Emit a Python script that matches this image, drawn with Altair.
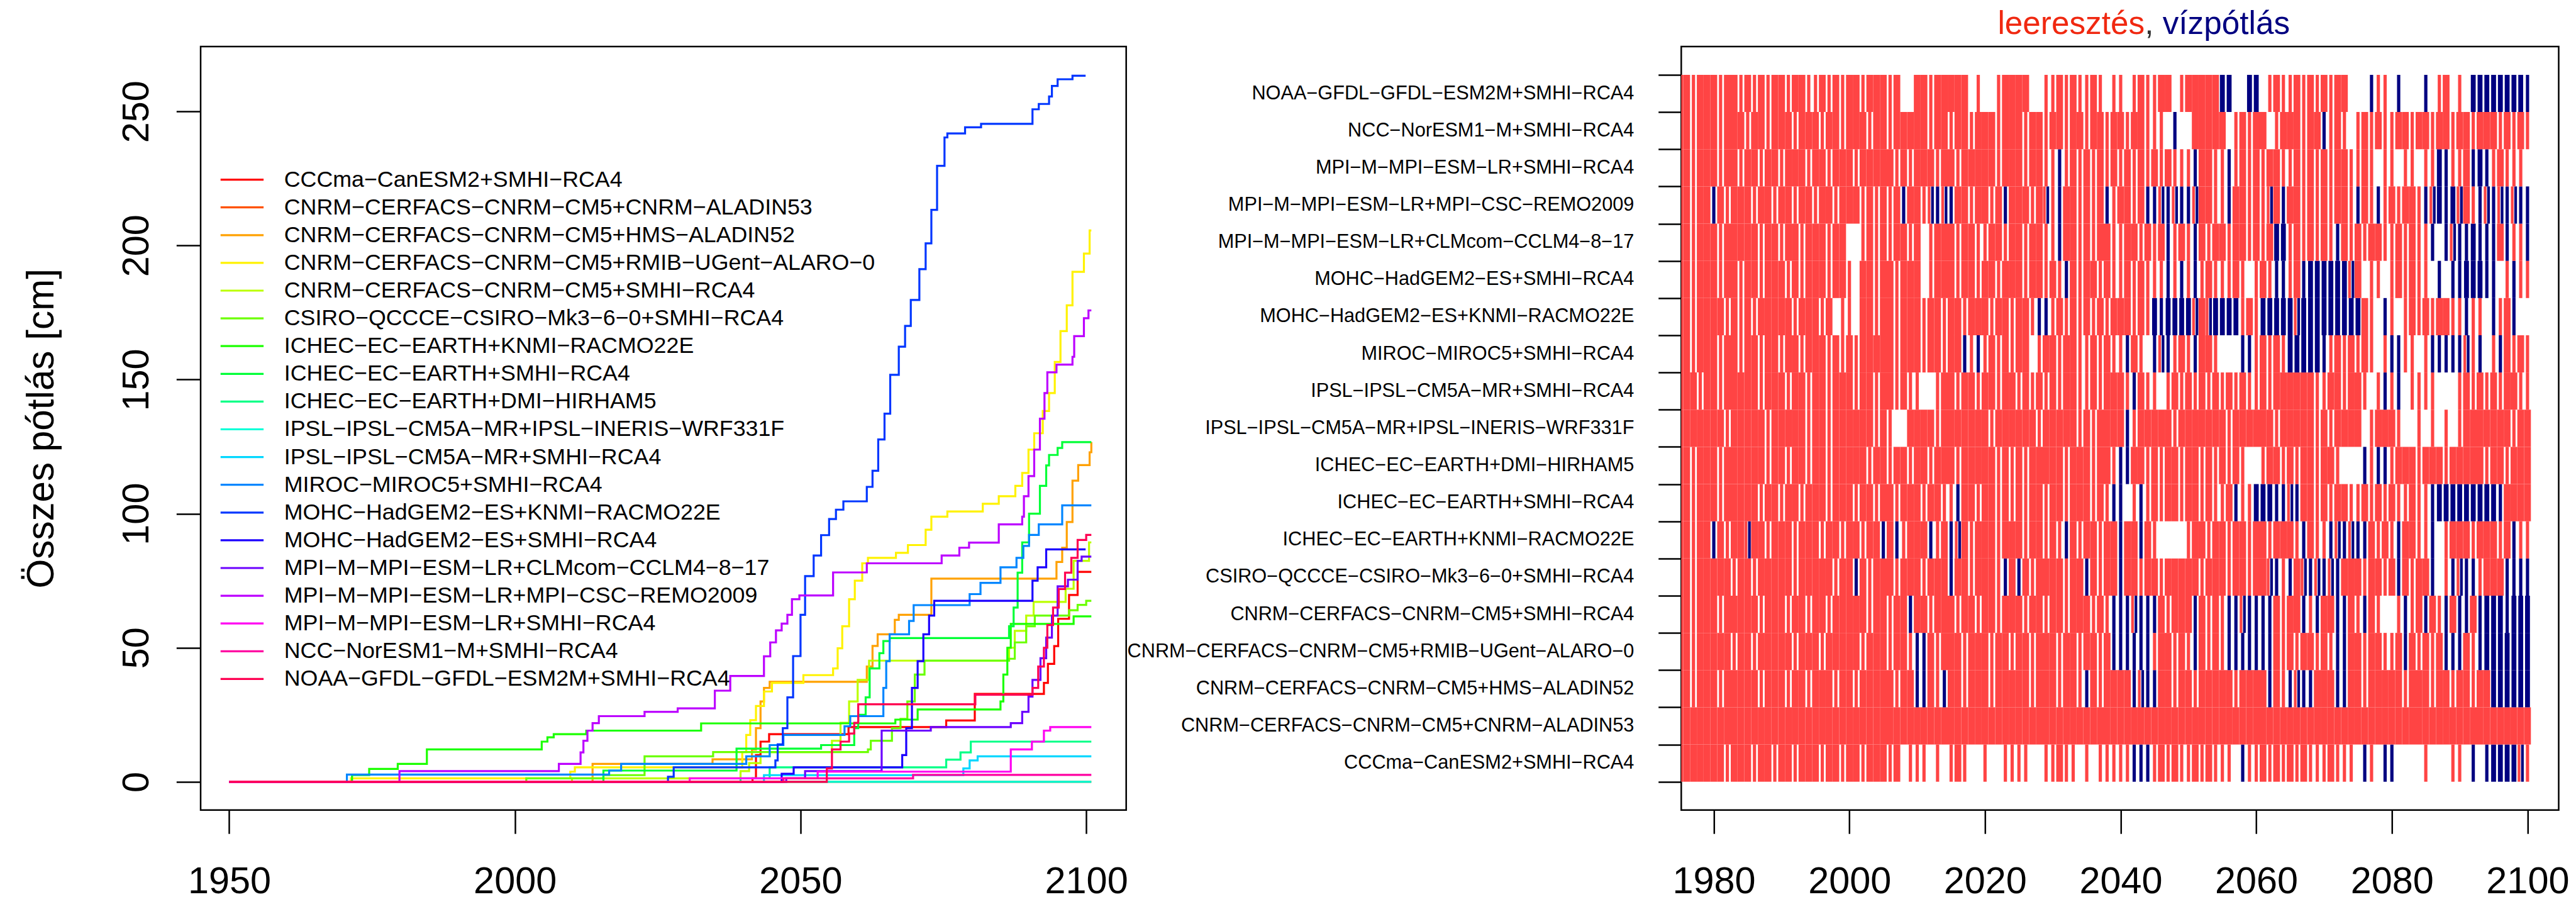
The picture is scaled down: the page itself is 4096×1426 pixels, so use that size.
import altair as alt
import pandas as pd

FONT = "Liberation Sans"

models = [
    "CCCma−CanESM2+SMHI−RCA4",
    "CNRM−CERFACS−CNRM−CM5+CNRM−ALADIN53",
    "CNRM−CERFACS−CNRM−CM5+HMS−ALADIN52",
    "CNRM−CERFACS−CNRM−CM5+RMIB−UGent−ALARO−0",
    "CNRM−CERFACS−CNRM−CM5+SMHI−RCA4",
    "CSIRO−QCCCE−CSIRO−Mk3−6−0+SMHI−RCA4",
    "ICHEC−EC−EARTH+KNMI−RACMO22E",
    "ICHEC−EC−EARTH+SMHI−RCA4",
    "ICHEC−EC−EARTH+DMI−HIRHAM5",
    "IPSL−IPSL−CM5A−MR+IPSL−INERIS−WRF331F",
    "IPSL−IPSL−CM5A−MR+SMHI−RCA4",
    "MIROC−MIROC5+SMHI−RCA4",
    "MOHC−HadGEM2−ES+KNMI−RACMO22E",
    "MOHC−HadGEM2−ES+SMHI−RCA4",
    "MPI−M−MPI−ESM−LR+CLMcom−CCLM4−8−17",
    "MPI−M−MPI−ESM−LR+MPI−CSC−REMO2009",
    "MPI−M−MPI−ESM−LR+SMHI−RCA4",
    "NCC−NorESM1−M+SMHI−RCA4",
    "NOAA−GFDL−GFDL−ESM2M+SMHI−RCA4",
]
colors = ["#FF0000", "#FF5100", "#FFA100", "#FFF200", "#BCFF00", "#6BFF00", "#1BFF00",
          "#00FF36", "#00FF86", "#00FFD7", "#00D7FF", "#0086FF", "#0036FF", "#1B00FF",
          "#6B00FF", "#BC00FF", "#FF00F2", "#FF00A1", "#FF0051"]

# ---- cumulative replenishment (step series): year where value starts, value [cm]
s00_x = [1950, 2041.6, 2042.2, 2043.0, 2044.5, 2058.4, 2075.5, 2080.5, 2092.6, 2093.3, 2094.4, 2095.1, 2097.0, 2098.5, 2100.9]
s00_y = [0, 1.3, 10, 15, 17.8, 20.4, 22.9, 32.8, 36.9, 44, 50.6, 60.8, 69.7, 78.3, 78.3]
s01_x = [1950, 2100.9]
s01_y = [0, 0]
s02_x = [1950, 2013.6, 2034.6, 2041.5, 2042.2, 2043.0, 2043.6, 2044.6, 2061.6, 2062.6, 2063.5, 2066.5, 2067.2, 2072.9, 2094.8, 2095.8, 2096.6, 2097.6, 2098.6, 2100.6, 2100.9]
s02_y = [0, 6.7, 8.4, 12, 20, 30, 35, 37.3, 43, 50.7, 55, 60.4, 62.3, 75.8, 82, 87.3, 96.9, 112.3, 118.1, 122.9, 126.7]
s03_x = [1950, 1971.3, 2009.7, 2010.5, 2039.8, 2040.5, 2041.2, 2042.2, 2043.6, 2045.0, 2050.5, 2055.7, 2056.5, 2057.3, 2058.5, 2059.5, 2060.8, 2061.8, 2066.7, 2068.8, 2071.9, 2072.9, 2075.7, 2081.9, 2084.7, 2087.6, 2088.8, 2089.9, 2090.9, 2092.4, 2093.5, 2094.5, 2095.5, 2096.6, 2097.6, 2099.6, 2100.6, 2100.9]
s03_y = [0, 1.3, 3.8, 5.4, 11.1, 17.5, 23, 28.3, 33.7, 36.9, 39.8, 42.3, 49.8, 58, 68.1, 75, 81.5, 83.5, 85.4, 88.3, 94.0, 98.9, 100.8, 103.7, 106.5, 110.4, 115.2, 123.9, 130, 138.3, 145, 156.6, 168.1, 177.7, 190.2, 197, 205.6, 205.6]
s04_x = [1950, 2010.0, 2039.5, 2041.0, 2043.0, 2044.6, 2055.5, 2057.0, 2058.5, 2060.0, 2062.0, 2086.5, 2087.5, 2089.5, 2090.8, 2096.4, 2097.8, 2100.5, 2100.9]
s04_y = [0, 1.3, 4, 7, 9.5, 11.1, 15.3, 22, 30, 38, 45.2, 50, 56.3, 62, 67.1, 72, 82.4, 89.3, 89.3]
s05_x = [1950, 2002.0, 2015.5, 2022.7, 2034.7, 2061.8, 2062.3, 2066.0, 2067.5, 2068.7, 2070.0, 2071.7, 2086.5, 2087.5, 2089.5, 2091.0, 2097.0, 2098.5, 2100.0, 2100.9]
s05_y = [0, 1.3, 2.5, 9.5, 11.1, 12.1, 15.3, 20, 23.5, 30, 40, 45.2, 45.9, 52, 58, 62, 64, 66, 67.5, 67.5]
s06_x = [1950, 1971.5, 1974.5, 1979.5, 1984.6, 2004.7, 2005.7, 2006.8, 2012.5, 2032.6, 2066.6, 2070.5, 2085.0, 2085.5, 2086.2, 2086.8, 2097.8, 2100.9]
s06_y = [0, 2.5, 4.8, 6.7, 12.1, 15, 16.6, 17.8, 19.1, 21.8, 23.2, 27, 30, 40, 50, 58.9, 61.7, 61.7]
s07_x = [1950, 2015.5, 2038.8, 2053.6, 2059.4, 2060.1, 2061.4, 2062.1, 2063.8, 2064.5, 2065.6, 2086.5, 2087.3, 2088.0, 2088.8, 2090.0, 2091.9, 2093.0, 2093.5, 2095.0, 2095.8, 2100.9]
s07_y = [0, 4.2, 12.4, 13.7, 20, 25, 31.5, 42.3, 48, 52.5, 53.6, 58, 65, 78, 89.3, 100, 110.4, 118, 121.9, 124.5, 126.7, 126.7]
s08_x = [1950, 2039.5, 2044.6, 2075.5, 2078.0, 2079.8, 2100.9]
s08_y = [0, 1.3, 5.4, 8.3, 11, 15, 15]
s09_x = [1950, 2100.9]
s09_y = [0, 0]
s10_x = [1950, 2043.6, 2078.5, 2079.6, 2081.0, 2100.9]
s10_y = [0, 2.5, 5, 8, 9.5, 9.5]
s11_x = [1950, 1970.6, 2016.5, 2018.6, 2040.5, 2044.6, 2047.0, 2057.7, 2058.7, 2064.5, 2065.0, 2065.6, 2069.0, 2069.8, 2079.6, 2081.5, 2085.0, 2087.8, 2089.0, 2090.0, 2091.7, 2095.8, 2100.9]
s11_y = [0, 2.7, 4.2, 6.7, 9.5, 13.7, 17.5, 20.7, 24.5, 35, 45, 55, 60, 65.9, 70, 74.2, 80, 83.5, 88, 92.1, 96, 103.1, 103.1]
s12_x = [1950, 2026.8, 2027.8, 2045.6, 2046.0, 2046.9, 2047.7, 2048.7, 2050.0, 2050.8, 2052.3, 2053.6, 2055.0, 2056.2, 2057.5, 2061.6, 2062.6, 2063.6, 2064.7, 2065.7, 2067.2, 2068.3, 2069.3, 2070.8, 2071.9, 2072.9, 2073.9, 2075.2, 2075.7, 2078.8, 2081.6, 2090.6, 2091.7, 2093.5, 2094.0, 2095.0, 2097.6, 2099.9]
s12_y = [0, 1.9, 5.4, 8, 14, 20, 31.5, 46.9, 62.3, 76.7, 84.4, 92, 98, 101.5, 104.6, 110, 116, 127.7, 137.3, 151.8, 162.3, 170, 179.7, 191.2, 200.8, 213.3, 229.7, 240.3, 241.8, 244.1, 245.4, 250.8, 252.8, 255.6, 259.5, 262, 263.3, 263.3]
s13_x = [1950, 2046.7, 2048.8, 2067.8, 2068.5, 2069.5, 2070.5, 2071.5, 2072.5, 2073.4, 2090.6, 2091.5, 2093.0, 2099.9]
s13_y = [0, 3, 5.4, 10, 20, 35, 45, 55, 62, 67.5, 75, 80, 86.7, 86.7]
s14_x = [1950, 2047.5, 2050.8, 2064.2, 2072.8, 2086.8, 2088.8, 2089.9, 2090.6, 2092.0, 2093.0, 2094.0, 2095.0, 2096.8, 2098.5, 2099.2, 2100.9]
s14_y = [0, 1.3, 4, 19.1, 20.4, 21.9, 26.1, 31.8, 38, 46.1, 53.8, 62, 72.9, 75.4, 82.4, 84, 84]
s15_x = [1950, 1979.8, 2007.7, 2011.5, 2012.0, 2012.7, 2013.6, 2014.7, 2022.7, 2028.5, 2035.0, 2037.7, 2043.6, 2044.7, 2045.7, 2046.7, 2047.7, 2048.5, 2049.8, 2055.7, 2061.6, 2074.7, 2077.8, 2079.5, 2084.7, 2088.8, 2089.1, 2089.9, 2090.9, 2091.9, 2092.7, 2093.2, 2094.8, 2097.6, 2097.9, 2099.6, 2100.4, 2100.9]
s15_y = [0, 4.0, 6.7, 11, 15.3, 19.1, 21.9, 24.5, 26.1, 27.4, 34, 39.5, 46.8, 52, 56.5, 59, 62.3, 68.1, 69.5, 78.1, 81.5, 84.4, 87.3, 89.2, 96, 98.9, 106.5, 114, 123.9, 135.4, 145, 152.7, 155.6, 158.5, 166.2, 172.9, 175.8, 175.8]
s16_x = [1950, 2030.6, 2053.0, 2086.8, 2090.5, 2092.6, 2093.7, 2100.9]
s16_y = [0, 1.3, 3.8, 12.1, 15, 19.1, 20.4, 20.4]
s17_x = [1950, 2047.0, 2069.7, 2100.9]
s17_y = [0, 1.3, 2.6, 2.6]
s18_x = [1950, 2054.6, 2055.5, 2057.0, 2058.5, 2059.4, 2060.1, 2080.6, 2090.6, 2091.6, 2092.6, 2093.2, 2094.2, 2095.2, 2096.3, 2097.4, 2098.5, 2100.0, 2100.9]
s18_y = [0, 5, 12.1, 15, 18, 22, 28.9, 32.5, 35, 43, 50, 58.5, 65, 71.9, 78, 83.5, 90.2, 92.1, 92.1]

series_x = [s00_x, s01_x, s02_x, s03_x, s04_x, s05_x, s06_x, s07_x, s08_x, s09_x,
            s10_x, s11_x, s12_x, s13_x, s14_x, s15_x, s16_x, s17_x, s18_x]
series_y = [s00_y, s01_y, s02_y, s03_y, s04_y, s05_y, s06_y, s07_y, s08_y, s09_y,
            s10_y, s11_y, s12_y, s13_y, s14_y, s15_y, s16_y, s17_y, s18_y]

# ---- drain / refill raster, one character per year from 1975, groups of 5 years
# R = drain (full year), r = drain (single event), B/b = refill, x = both, . = none
r_ccc = "RRRRR RRrRR RrRRr RRrRR RrRRr RRrRR RrR.r rr.r. rRr.. r..rr rr..r rRrr. r.rrr rrbbb rRrRr rRrRr rr.br rRrRr RrRrr rRrrr .br.b b.... r...r r.b.b BBBBx r"
r_ald = "RRRRR RRRRR RRRRR RRRRR RRRRR RRRRR RRRRR RRRRR RRRRR RRRRR RRRRR RRRRR RRRRR RRRRR RRRRR RRRRR RRRRR RRRRR RRRRR RRRRR RRRRR RRRRR RRRRR RRRRR RRRRR R"
r_hms = "RRrRR RrRRR RRrRR RrRRr RRRrR RrRRR RRrRR bbRrb RRrRR RrRRR RRrRR RrRRr bRrRR RRbxb bRRrR RrRRR RRrRR RRbRr bxbbR RRbbR RrRRR RRrRR RrRRr RRrRR BBBBB B"
r_alr = "RRrRR RRRrR RrRRR RRrRR RrRRR RRrRR RrRRr bbRrR RRrRR RrRRr RRrRR RrRRr RRrRb bbbbb rRRrR rbRrR rbbbb bbbRr RrRRr RrbbR RrRRr rRbRr RrRbb bRrbB BBBBB B"
r_cns = "RRrRR RrRRR RRrRR RrRRr RRrRR RRRrR RrRRb RRrRR RrRRr RRrRR RrRRr RRrRR RrRrb bbxbb bRrRR RbRrR rbbxb bbbRr RRbrb RRbbR rbRr. .rbrR bRrbR bbRbB BBbBB B"
r_csi = "RRrRR RRRrR RrRRR RRrRR RRRrR RbRrR RRrRR RrRRR bRRrR RRrbR bRrRR RRrRR bRrRR bRRrR RrRRR RRrRR RrRRr RRxbr bRxbx bxbRR RrRRr RbRrR Rb.rb xbbrR RRbbb b"
r_icr = "RRrRR bRrRR xRRrR RRrRR RrRRr RRrRR bRbrR RRbrR bxRrR RRrRR RrRRr RrbRr RRrRR bRRbR r.... rRRrR RrRRr RRrRR RrbRr rbxbx bbRrR rbRRr rb.rR RRrRR RrRbr r"
r_ics = "RRrRR RrRRR RRrRR rRRrR RRrRR RrRRr RRrRR RrRRr rbRRr RRrRr RrRRr RRrRR RrRrb b.rbr RrRRr RRrRr rRbrr BBBbb xbRRr RrRRr rRrRr RrrRr rbBBB BBBBB BbRRR R"
r_icd = "RRrRR RrRRR RRRrR RrRRr RRrRR RRRrR RrRRr RRrRR RrRRR RRrRr RrRRR RRrRR RrRRr bbRRr RrRRr RRrRr RrRr. .rRRr RrRRr RRr.. .brbb rRRRr RRRrR RRRRr RRrRR R"
r_ipw = "RRRRR RRrRR RRRrR RRRRr RRrRR RRRRr Rr..R RRRrR RRRRR RrRRR RRRrR RRRRr RrRRR RbrRR RRRrR RRRRR RrRRR RRRrR RRRRr RrRRR R.rRR Rr..r .r.r. rRRRR RRRrR R"
r_ips = "RRRrR RrRRR RRrRR RrRRr RRrRR RrRRr RRrRr r..rR RrRRr RRrRR rRrRr RrRRr rRrRR RrbRr r.rRr RrRrR rRrRr rRrRR RRRRr rRRrR Rr.rb rb.rr rr... rRrRr RrRRr r"
r_mir = "RRrRR RrRRr RRrRR rRRrR RRrRr RrRRR RRrRR RrRRr RRbrb rRrRr RR.rR RrRRr rRrRr rbRr. bxbrR rbRRr ...bb rRrRr BBBBB brRrR rRr.r bbrr. rbbbb bxrb. rbRrR r"
r_mhr = "RRrRR RRrRr RrRRR RRrRR RrR.r r.RRr RRrRR RrRRr RRrRR RrRRr RRrbb rRrRr RrRrR RRrRr BbBBB BxRxB BBBrR rBBBB BxBBB BBBBB BRr.b r.rRr RrRRr rbrr. brRb. ."
r_mhs = "RRrRR RrRRr RRrRR RrRrR RRrRR r.RRr RRrRR R.rRR RrRRr RRrRR RrRRr RrbRr RRrRr rRrRr rrbrb rbrRr rrRr. rRrbb rRbBB BBBBx R.rr. rRrRr r.b.b bBBBb b.rbr r"
r_mpc = "RRrRR RrRRR RRrRR rRRrR RRrRR ..rRr RrRRr R.rRR RrRRr rRRrR RrRRr rbRRr RrRRr rRRrR rRbrR rbRrR RrRRr RrRBB rRrRr RrbRr RrRRr rRrRr rb.bx bbBbb bRbrr b"
r_mpr = "RRrRR bRrRR RrRRr RRrRR rRRrR RRrRr RrRbR Rrxbx bRRrR RrRbR RRrRx rbRRr RrRbr RRrRb bxbxb bxRRr rbRRr RrxRb RRrRr RrRRr bRrbr RrRRr bxBbB xRrbx bxbxb b"
r_mps = "RRrRR RrRRr RRrRR rRRRr RRrRR RrRRR RRrRr RRRrR RrRRR RRrRR RrRRr rbrRr RrRrR rRrRr RrRrr rbRRr rbrRr RrRRr rRrRr RrRRr rRr.r r.rr. rrBbr rRbBb rRrrr ."
r_ncc = "RRrRR RrRRR rRRrR RRrRR RrRRr RRRrR RrRRR RRrRR rRRrR RRrRR RrRRr RRrRR rRRrR RrRRr rr.b. .RRRR R.rRr RR.rR RRrRR brRr. rRrRr rRRrR RrRRr RRrRR RrRrR r"
r_noa = "RRrRR RrRRr RrRrR RrRRr rRrRr RRrRR RrR.. RRrRR RRR.r ..rRR RR..r rRrRr rRr.r r.rRr rRR.r RRRRR BB..B B.rRr rRrRr RrRR. ..brr .b... b.rR. r.BBB BBBBB b"

raster = [r_ccc, r_ald, r_hms, r_alr, r_cns, r_csi, r_icr, r_ics, r_icd, r_ipw,
          r_ips, r_mir, r_mhr, r_mhs, r_mpc, r_mpr, r_mps, r_ncc, r_noa]

x_ticks_left = [1950, 2000, 2050, 2100]
y_ticks_left = [0, 50, 100, 150, 200, 250]
x_ticks_right = [1980, 2000, 2020, 2040, 2060, 2080, 2100]

# ---------------- build tables
line_rows = []
for i, name in enumerate(models):
    for xv, yv in zip(series_x[i], series_y[i]):
        line_rows.append({"model": name, "year": xv, "val": yv, "k": i})
df_lines = pd.DataFrame(line_rows)

R_HALF, B_HALF, THIN = 0.5, 0.36, 0.24
rect_rows = []
for i, code in enumerate(raster):
    row = i + 1
    for g, grp in enumerate(code.split()):
        for k, ch in enumerate(grp):
            yr = 1975 + 5 * g + k
            segs = []
            if ch == "R":
                segs = [(yr - R_HALF, yr + R_HALF, "leeresztés")]
            elif ch == "r":
                segs = [(yr - THIN, yr + THIN, "leeresztés")]
            elif ch == "B":
                segs = [(yr - B_HALF, yr + B_HALF, "vízpótlás")]
            elif ch == "b":
                segs = [(yr - THIN, yr + THIN, "vízpótlás")]
            elif ch == "x":
                segs = [(yr - 0.45, yr - 0.05, "leeresztés"), (yr + 0.05, yr + 0.45, "vízpótlás")]
            for a, b, kind in segs:
                rect_rows.append({"x0": a, "x1": b, "y0": row - 0.5, "y1": row + 0.5, "kind": kind})
df_rect = pd.DataFrame(rect_rows)

df_names = pd.DataFrame({"model": models, "row": list(range(1, 20)), "idx": list(range(19))})

# ---------------- geometry (scaled)
LW, RW, H = 1471.7, 1395.2, 1213.7
cscale = alt.Scale(domain=models, range=colors)

xl = alt.Scale(domain=[1945, 2107], nice=False, zero=False)
yl = alt.Scale(domain=[-10.5, 274.2], nice=False, zero=False)

lines = alt.Chart(df_lines).mark_line(interpolate="step-after", strokeWidth=3.2).encode(
    x=alt.X("year:Q", scale=xl, axis=alt.Axis(values=x_ticks_left, title=None, format="d",
                                                tickSize=37.5, labelPadding=47.7)),
    y=alt.Y("val:Q", scale=yl, axis=alt.Axis(values=y_ticks_left, title="Összes pótlás [cm]",
                                               tickSize=38.7, labelAngle=270, labelAlign="center",
                                               labelBaseline="alphabetic", labelPadding=44.4,
                                               titleAngle=270, titleX=-234.4, titleY=H / 2,
                                               titleAlign="center", titleBaseline="alphabetic",
                                               titleFontSize=60.2, titleFontWeight="normal",
                                               titleFont=FONT, titleColor="black")),
    color=alt.Color("model:N", scale=cscale, legend=None),
    order=alt.Order("k:Q"),
)

leg_base = alt.Chart(df_names).transform_calculate(ly="211.6 + datum.idx * 44.1")
leg_rule = leg_base.mark_rule(strokeWidth=3.2).encode(
    x=alt.value(31.7), x2=alt.value(100.1),
    y=alt.Y("ly:Q", scale=None),
    color=alt.Color("model:N", scale=cscale, legend=None),
)
leg_text = leg_base.mark_text(align="left", baseline="middle", fontSize=35.8, font=FONT,
                              color="black").encode(
    x=alt.value(132.7), y=alt.Y("ly:Q", scale=None), text="model:N")

left = alt.layer(lines, leg_rule, leg_text).properties(width=LW, height=H)

xr = alt.Scale(domain=[1975.2, 2104.6], nice=False, zero=False)
yr_ = alt.Scale(domain=[-0.26, 20.26], nice=False, zero=False)

bars = alt.Chart(df_rect).mark_rect(clip=True).encode(
    x=alt.X("x0:Q", scale=xr, axis=alt.Axis(values=x_ticks_right, title=None, format="d",
                                            tickSize=37.5, labelPadding=47.7)),
    x2="x1:Q",
    y=alt.Y("y0:Q", scale=yr_, axis=alt.Axis(values=[v + 0.5 for v in range(20)], labels=False,
                                             title=None, tickSize=36.6)),
    y2="y1:Q",
    fill=alt.Fill("kind:N", scale=alt.Scale(domain=["leeresztés", "vízpótlás"],
                                            range=["#FF4444", "#000080"]), legend=None),
)
row_labels = alt.Chart(df_names).mark_text(align="right", baseline="middle", fontSize=30.7,
                                           font=FONT, color="black").encode(
    x=alt.value(-74.9), y=alt.Y("row:Q", scale=yr_), text="model:N")

t1 = alt.Chart(pd.DataFrame({"t": ["leeresztés"]})).mark_text(
    align="left", baseline="alphabetic", fontSize=51.3, font=FONT, color="#F02810").encode(
    x=alt.value(503.1), y=alt.value(-19.5), text="t:N")
t2 = alt.Chart(pd.DataFrame({"t": [","]})).mark_text(
    align="left", baseline="alphabetic", fontSize=51.3, font=FONT, color="#333333").encode(
    x=alt.value(736.9), y=alt.value(-19.5), text="t:N")
t3 = alt.Chart(pd.DataFrame({"t": ["vízpótlás"]})).mark_text(
    align="left", baseline="alphabetic", fontSize=51.3, font=FONT, color="#000080").encode(
    x=alt.value(765.4), y=alt.value(-19.5), text="t:N")

right = alt.layer(bars, row_labels, t1, t2, t3).properties(width=RW, height=H)

chart = alt.hconcat(left, right, spacing=882.3, bounds="flush").resolve_scale(
    color="independent", fill="independent"
).properties(
    padding={"left": 35, "top": 12, "right": 2, "bottom": 2},
    background="white",
).configure_view(stroke="black", strokeWidth=2.5).configure_axis(
    labelFont=FONT, labelFontSize=59.4, labelColor="black", tickColor="black", tickWidth=2.5,
    domain=False, grid=False,
)

chart.save("out.html", embed_options={"renderer": "svg", "actions": False})
